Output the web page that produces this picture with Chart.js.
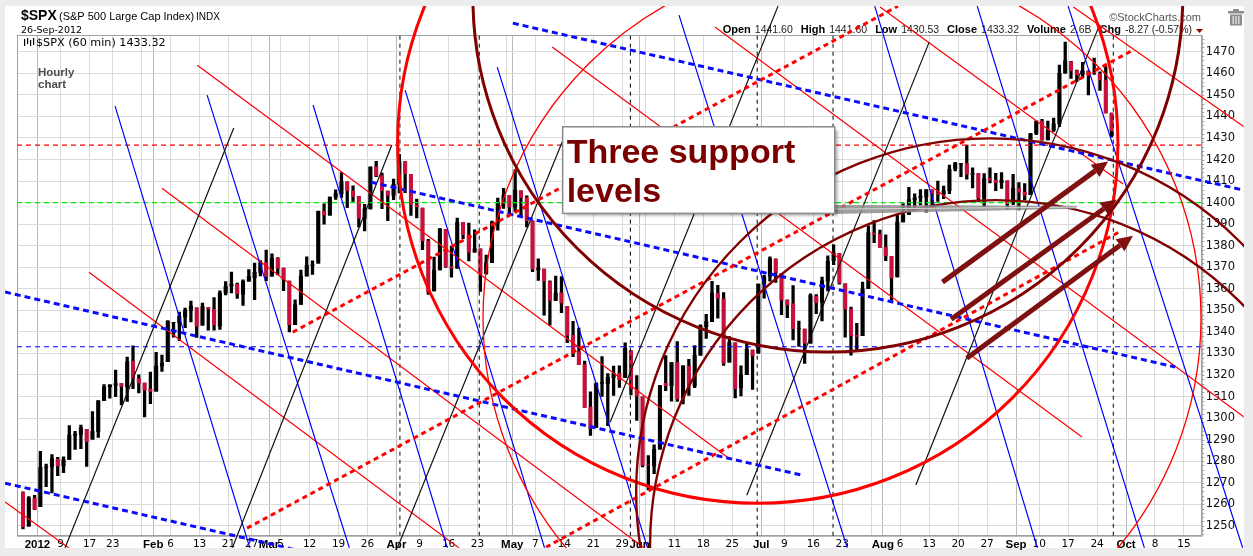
<!DOCTYPE html>
<html>
<head>
<meta charset="utf-8">
<script src="https://cdn.jsdelivr.net/npm/chart.js@4.4.1/dist/chart.umd.min.js"></script>
<style>
  html, body { margin: 0; padding: 0; background: #ececec; }
  canvas { display: block; }
</style>
</head>
<body>
<canvas id="spx" width="1253" height="556" style="width:1253px;height:556px"></canvas>
<script>
// trading days: index 0 = 28-Dec-2011 ... index 188 = 26-Sep-2012 (daily OHLC)
var opens = [
  1265.4, 1249.8, 1262.8,
  1258.9, 1277.0, 1277.3, 1280.9, 1277.8, 1280.8, 1292.0, 1292.5, 1294.8, 1290.2, 1293.7, 1308.1, 1314.5, 1315.3, 1316.0, 1314.4, 1326.3, 1318.3, 1316.2, 1313.5,
  1312.5, 1324.2, 1326.2, 1344.3, 1344.3, 1347.0, 1350.0, 1351.2, 1343.1, 1351.3, 1350.5, 1342.6, 1358.1, 1361.2, 1362.1, 1357.5, 1363.5, 1365.2, 1367.6, 1372.2,
  1365.9, 1374.1, 1369.6, 1363.6, 1343.4, 1352.7, 1366.0, 1370.8, 1371.9, 1395.9, 1394.2, 1402.6, 1404.2, 1409.6, 1405.5, 1402.9, 1392.8, 1397.1, 1416.6, 1412.5, 1405.4, 1403.3,
  1408.5, 1419.0, 1413.1, 1398.8, 1397.5, 1382.2, 1359.0, 1368.8, 1387.6, 1370.3, 1369.6, 1390.8, 1385.1, 1377.0, 1378.5, 1367.0, 1372.1, 1390.6, 1400.2, 1403.3,
  1397.9, 1405.5, 1402.3, 1391.5, 1368.8, 1369.2, 1363.2, 1354.6, 1358.1, 1351.9, 1338.4, 1330.8, 1324.8, 1305.1, 1295.7, 1316.1, 1316.0, 1318.7, 1320.8, 1318.9, 1331.3, 1313.1,
  1309.9, 1278.3, 1277.8, 1285.6, 1316.1, 1315.0, 1325.7, 1309.4, 1324.0, 1314.9, 1329.2, 1342.4, 1344.8, 1357.9, 1355.4, 1325.9, 1334.9, 1314.1, 1320.1, 1331.5, 1330.1,
  1362.3, 1365.8, 1373.7, 1367.1, 1354.7, 1353.0, 1341.4, 1341.3, 1334.8, 1356.5, 1353.7, 1363.6, 1373.0, 1376.5, 1362.3, 1350.5, 1338.4, 1338.2, 1360.1, 1385.9, 1385.3,
  1379.3, 1375.1, 1365.5, 1391.0, 1394.5, 1401.2, 1402.3, 1402.6, 1405.9, 1404.4, 1403.9, 1405.6, 1415.8, 1417.9, 1418.1, 1413.1, 1413.5, 1402.0, 1411.1, 1410.4, 1409.3, 1410.1, 1400.1,
  1406.5, 1404.9, 1403.7, 1432.1, 1437.9, 1429.1, 1433.6, 1436.6, 1460.1, 1465.4, 1461.2, 1459.5, 1461.1, 1460.3, 1459.8, 1456.9, 1441.6
];
var highs = [
  1265.8, 1263.5, 1264.1,
  1284.6, 1278.7, 1283.1, 1281.8, 1282.0, 1296.5, 1293.8, 1296.8, 1294.8, 1303.0, 1308.1, 1315.5, 1315.4, 1322.3, 1316.0, 1328.3, 1333.5, 1320.1, 1316.2, 1321.4,
  1330.5, 1329.2, 1345.3, 1344.4, 1349.2, 1351.0, 1354.3, 1351.2, 1353.4, 1351.3, 1355.9, 1359.0, 1363.4, 1367.8, 1362.7, 1364.2, 1368.9, 1371.9, 1373.1, 1378.0,
  1376.2, 1374.5, 1369.6, 1363.6, 1354.9, 1368.7, 1374.8, 1373.0, 1396.1, 1399.4, 1402.6, 1405.9, 1414.0, 1409.6, 1407.8, 1402.9, 1399.2, 1416.6, 1419.2, 1413.7, 1405.4, 1410.9,
  1422.4, 1419.0, 1413.1, 1401.6, 1397.5, 1383.0, 1374.7, 1388.1, 1387.6, 1379.7, 1392.8, 1390.8, 1390.5, 1387.4, 1378.5, 1375.6, 1391.4, 1402.1, 1406.6, 1403.3,
  1415.3, 1405.5, 1403.1, 1391.5, 1373.9, 1369.2, 1363.7, 1365.9, 1365.7, 1351.9, 1344.9, 1341.8, 1326.4, 1312.2, 1316.4, 1328.5, 1320.7, 1324.1, 1324.2, 1334.9, 1331.3, 1319.7,
  1309.9, 1282.6, 1287.6, 1315.1, 1329.0, 1325.8, 1335.5, 1324.3, 1327.3, 1333.7, 1343.3, 1348.2, 1363.5, 1361.6, 1358.3, 1337.8, 1334.9, 1324.2, 1334.4, 1331.5, 1362.2,
  1366.4, 1374.8, 1373.9, 1367.1, 1354.9, 1361.5, 1345.0, 1341.3, 1357.7, 1357.3, 1365.4, 1375.3, 1380.4, 1376.5, 1362.3, 1351.5, 1344.0, 1363.1, 1389.2, 1391.7, 1387.2,
  1385.0, 1375.1, 1394.2, 1399.6, 1407.1, 1404.1, 1406.0, 1406.0, 1405.9, 1410.0, 1407.7, 1417.4, 1418.7, 1418.1, 1426.7, 1416.1, 1413.5, 1413.5, 1416.2, 1413.6, 1414.0, 1410.1, 1413.1,
  1409.3, 1408.8, 1432.1, 1437.9, 1438.7, 1437.8, 1439.2, 1463.8, 1474.5, 1465.6, 1461.5, 1465.1, 1461.2, 1467.1, 1460.7, 1463.2, 1441.6
];
var lows = [
  1248.6, 1249.8, 1257.5,
  1258.9, 1268.1, 1265.3, 1273.3, 1274.6, 1280.8, 1285.4, 1285.8, 1277.6, 1290.2, 1291.0, 1308.1, 1309.2, 1309.9, 1306.1, 1307.7, 1313.6, 1311.7, 1300.5, 1306.7,
  1312.5, 1321.6, 1326.2, 1337.5, 1335.9, 1341.9, 1344.6, 1337.4, 1343.1, 1340.8, 1340.8, 1341.2, 1357.2, 1358.1, 1355.5, 1352.3, 1363.5, 1354.9, 1366.0, 1363.8,
  1365.9, 1366.4, 1359.1, 1340.0, 1343.4, 1352.7, 1365.9, 1366.7, 1371.9, 1390.0, 1394.2, 1401.5, 1402.4, 1397.7, 1400.6, 1388.7, 1386.9, 1397.1, 1412.0, 1397.2, 1391.6, 1401.4,
  1404.5, 1404.6, 1394.1, 1392.9, 1378.2, 1357.4, 1359.0, 1368.8, 1369.9, 1365.4, 1369.6, 1383.3, 1372.9, 1377.0, 1358.8, 1366.8, 1372.1, 1387.2, 1397.3, 1394.0,
  1395.7, 1393.9, 1388.7, 1368.0, 1363.9, 1347.8, 1343.1, 1354.6, 1348.9, 1335.0, 1328.5, 1324.8, 1304.9, 1292.0, 1295.7, 1310.0, 1296.5, 1310.5, 1314.2, 1318.9, 1310.8, 1298.9,
  1277.3, 1266.7, 1274.2, 1285.6, 1312.7, 1307.8, 1307.7, 1306.6, 1310.5, 1314.1, 1329.2, 1337.0, 1344.8, 1346.4, 1324.4, 1325.9, 1309.3, 1310.3, 1320.1, 1313.3, 1330.1,
  1355.7, 1363.5, 1363.0, 1348.0, 1346.6, 1336.3, 1333.2, 1325.4, 1334.8, 1348.5, 1345.1, 1359.0, 1371.2, 1362.2, 1337.6, 1329.2, 1331.5, 1338.2, 1360.1, 1381.4, 1379.2,
  1373.1, 1354.6, 1365.5, 1391.0, 1394.5, 1396.6, 1398.8, 1395.6, 1397.3, 1400.6, 1401.8, 1404.2, 1414.7, 1412.1, 1410.9, 1406.8, 1400.5, 1398.0, 1409.1, 1405.6, 1406.6, 1397.0, 1399.0,
  1396.6, 1401.3, 1403.7, 1431.5, 1429.0, 1429.1, 1433.0, 1435.3, 1460.1, 1457.6, 1456.1, 1457.9, 1450.0, 1459.5, 1452.1, 1441.6, 1430.5
];
var closes = [
  1249.6, 1263.0, 1257.6,
  1277.1, 1277.3, 1281.1, 1277.8, 1280.7, 1292.1, 1292.5, 1295.5, 1289.1, 1293.7, 1308.0, 1314.5, 1315.4, 1316.0, 1314.7, 1326.1, 1318.4, 1316.3, 1313.0, 1312.4,
  1324.1, 1325.5, 1344.9, 1344.3, 1347.1, 1350.0, 1352.0, 1342.6, 1351.8, 1350.5, 1343.2, 1358.0, 1361.2, 1362.2, 1357.7, 1363.5, 1365.7, 1367.6, 1372.2, 1365.7,
  1374.1, 1369.6, 1364.3, 1343.4, 1352.6, 1365.9, 1370.9, 1371.1, 1396.0, 1394.3, 1402.6, 1404.2, 1409.8, 1405.5, 1402.9, 1392.8, 1397.1, 1416.5, 1412.5, 1405.5, 1403.3, 1408.5,
  1419.0, 1413.4, 1399.0, 1398.1, 1382.2, 1358.6, 1368.7, 1387.6, 1370.3, 1369.6, 1390.8, 1385.1, 1376.9, 1378.5, 1366.9, 1372.0, 1390.7, 1400.0, 1403.4, 1397.9,
  1405.8, 1402.3, 1391.6, 1369.1, 1369.6, 1363.7, 1354.6, 1358.0, 1353.4, 1338.4, 1330.7, 1324.8, 1304.9, 1295.2, 1316.0, 1316.6, 1318.9, 1320.7, 1317.8, 1332.4, 1313.3, 1310.3,
  1278.0, 1278.2, 1285.5, 1315.1, 1315.0, 1325.7, 1308.9, 1324.2, 1314.9, 1329.1, 1342.8, 1344.8, 1358.0, 1355.7, 1325.5, 1335.0, 1313.7, 1320.0, 1331.9, 1329.0, 1362.2,
  1365.5, 1374.0, 1367.6, 1354.7, 1352.5, 1341.5, 1341.5, 1334.8, 1356.8, 1353.6, 1363.7, 1372.8, 1376.5, 1362.7, 1350.5, 1338.3, 1337.9, 1360.0, 1386.0, 1385.3, 1379.3,
  1375.3, 1365.0, 1391.0, 1394.2, 1401.4, 1402.2, 1402.8, 1405.9, 1404.1, 1403.9, 1405.5, 1415.5, 1418.2, 1418.1, 1413.2, 1413.5, 1402.1, 1411.1, 1410.4, 1409.3, 1410.5, 1399.5, 1406.6,
  1404.9, 1403.4, 1432.1, 1437.9, 1429.1, 1433.6, 1436.6, 1460.0, 1465.8, 1461.2, 1459.3, 1461.1, 1460.3, 1460.2, 1456.9, 1441.6, 1433.3
];

// date axis: trading-day index of each label (future days continue to mid October)
var tickDays = [3, 7, 12, 16, 21, 23, 26, 31, 36, 40, 43, 45, 50, 55, 60, 65, 69, 74, 79, 84, 85, 89, 94, 99, 104,
  107, 108, 113, 118, 123, 128, 132, 137, 142, 147, 149, 152, 157, 162, 167, 172, 176, 181, 186, 191, 196, 201];
var tickText = ['2012', '9', '17', '23', '', 'Feb', '6', '13', '21', '27', 'Mar', '5', '12', '19', '26', 'Apr', '9', '16', '23', '', 'May', '7', '14', '21', '29',
  'Jun', '', '11', '18', '25', 'Jul', '9', '16', '23', '', 'Aug', '6', '13', '20', '27', 'Sep', '10', '17', '24', 'Oct', '8', '15'];
var monthDays = [3, 23, 43, 65, 85, 107, 128, 149, 172, 191];
var priceTicks = [1250, 1260, 1270, 1280, 1290, 1300, 1310, 1320, 1330, 1340, 1350, 1360, 1370,
  1380, 1390, 1400, 1410, 1420, 1430, 1440, 1450, 1460, 1470];

// drawn levels and trend lines, as [day1, price1, day2, price2]
var levelRed = 1426.7, levelGreen = 1400.0, levelBlue = 1333.1;
var markerDays = [65.6, 79.3, 105.4, 127.3, 140.4, 188.8];
var redLines = [
  [-2.6, 1261.0, 10.4, 1235.9], [11.9, 1367.7, 77.7, 1235.9], [24.5, 1406.7, 109.7, 1235.9],
  [30.6, 1463.8, 122.1, 1281.9], [91.9, 1472.2, 183.4, 1291.2], [120.0, 1481.5, 211.6, 1300.0],
  [148.5, 1490.8, 190.5, 1408.6], [181.9, 1490.8, 212.9, 1432.3]
];
var blueLines = [
  [16.4, 1444.8, 40.1, 1236.0], [32.3, 1449.9, 57.3, 1236.0], [50.6, 1445.3, 74.2, 1236.0],
  [66.5, 1452.2, 91.0, 1236.0], [82.4, 1462.9, 108.8, 1236.0], [113.8, 1487.0, 143.3, 1236.0],
  [147.6, 1491.2, 176.1, 1236.0], [165.3, 1491.2, 194.6, 1236.0], [181.0, 1491.2, 211.6, 1236.0]
];
var blackLines = [
  [7.2, 1236.0, 36.9, 1434.6], [36.1, 1236.0, 64.2, 1426.7], [64.6, 1236.0, 94.6, 1434.6],
  [101.9, 1298.1, 130.9, 1491.2], [125.5, 1264.2, 157.0, 1474.5], [154.7, 1268.9, 186.2, 1481.0]
];
var redChannel = [
  [39.2, 1248.9, 192.2, 1470.8], [47.1, 1339.9, 151.6, 1491.2], [88.1, 1236.0, 189.7, 1386.2]
];
var blueChannel = [
  [-2.6, 1358.5, 135.0, 1273.5], [60.6, 1409.5, 199.5, 1323.7], [85.1, 1483.3, 212.9, 1404.8], [-2.6, 1269.8, 49.4, 1237.8]
];
var supportArrows = [
  [159.3, 1363.1, 187.9, 1419.1], [160.8, 1345.9, 189.4, 1401.5], [163.5, 1327.8, 192.2, 1384.6]
];
// circles as [centre day, centre price, radius in days]
var maroonCircles = [[139.5, 1495.4, 61.3], [167.5, 1265.6, 61.1], [168.4, 1241.0, 59.6]];
var redCircles = [[127.4, 1427.6, 62.2], [141.95, 1346.4, 62.0]];

var xMin = -0.535, xMax = 204.07, yMin = 1245.4, yMax = 1477.8;

var sans = '"Liberation Sans", Arial, sans-serif';
var verd = '"DejaVu Sans", Verdana, sans-serif';
var overflow = { left: 12, top: 29, right: 42, bottom: 12 };

var wickData = [], bodyData = [], bodyColor = [];
for (var i = 0; i < closes.length; i++) {
  wickData.push({ x: i + 0.5, y: [lows[i], highs[i]] });
  bodyData.push({ x: i + 0.5, y: [Math.min(opens[i], closes[i]), Math.max(opens[i], closes[i])] });
  bodyColor.push(closes[i] < opens[i] ? '#c8103c' : '#000000');
}

function segments(list) {
  var pts = [];
  list.forEach(function (s) {
    pts.push({ x: s[0], y: s[1] }, { x: s[2], y: s[3] }, { x: s[2], y: null });
  });
  return pts;
}

function lineSet(pts, color, width, dash, order) {
  return {
    type: 'line', data: pts, borderColor: color, borderWidth: width, borderDash: dash,
    pointRadius: 0, pointHitRadius: 0, spanGaps: false, tension: 0, fill: false,
    order: order, clip: overflow
  };
}

var vert = markerDays.map(function (d) { return [d, yMin, d, yMax]; });

function ring(ctx, chart, c, color, width) {
  var xs = chart.scales.x, ys = chart.scales.y;
  var px = xs.getPixelForValue(c[0]), py = ys.getPixelForValue(c[1]);
  var pr = xs.getPixelForValue(c[0] + c[2]) - px;
  ctx.beginPath();
  ctx.arc(px, py, pr, 0, Math.PI * 2);
  ctx.strokeStyle = color;
  ctx.lineWidth = width;
  ctx.stroke();
}

var decor = {
  id: 'decor',
  beforeDraw: function (chart) {
    var ctx = chart.ctx;
    ctx.save();
    ctx.fillStyle = '#ececec';
    ctx.fillRect(0, 0, chart.width, chart.height);
    ctx.fillStyle = '#ffffff';
    ctx.fillRect(5, 6, 1239, 542);

    ctx.fillStyle = '#000';
    ctx.textBaseline = 'alphabetic';
    ctx.font = 'bold 14px ' + sans;
    ctx.fillText('$SPX', 21, 20);
    ctx.font = '11px ' + sans;
    ctx.fillText('(S&P 500 Large Cap Index)', 59, 20);
    ctx.font = '10px ' + sans;
    ctx.fillText('INDX', 196, 20);
    ctx.font = '9.5px ' + verd;
    ctx.fillText('26-Sep-2012', 21, 32.5);

    // quote line, right aligned
    var quote = [['Open', '1441.60'], ['High', '1441.60'], ['Low', '1430.53'], ['Close', '1433.32'], ['Volume', '2.6B'], ['Chg', '-8.27 (-0.57%)']];
    var lf = 'bold 11px ' + sans, vf = '10.5px ' + sans, total = 0;
    quote.forEach(function (q, k) {
      ctx.font = lf; total += ctx.measureText(q[0]).width + 4;
      ctx.font = vf; total += ctx.measureText(q[1]).width + (k < quote.length - 1 ? 8 : 0);
    });
    var x = 1192 - total;
    quote.forEach(function (q) {
      ctx.font = lf; ctx.fillStyle = '#000'; ctx.fillText(q[0], x, 32.5); x += ctx.measureText(q[0]).width + 4;
      ctx.font = vf; ctx.fillStyle = '#222'; ctx.fillText(q[1], x, 32.5); x += ctx.measureText(q[1]).width + 8;
    });
    ctx.fillStyle = '#8b0000';
    ctx.beginPath(); ctx.moveTo(1196, 29); ctx.lineTo(1203, 29); ctx.lineTo(1199.5, 33); ctx.closePath(); ctx.fill();

    ctx.fillStyle = '#555';
    ctx.font = '11px ' + sans;
    ctx.textAlign = 'right';
    ctx.fillText('\u00A9StockCharts.com', 1201, 20.5);
    ctx.textAlign = 'left';

    // trash icon
    ctx.fillStyle = '#8c8c8c';
    ctx.fillRect(1233, 9, 6, 2);
    ctx.fillRect(1228, 11, 16, 2.5);
    ctx.fillRect(1230, 14.5, 12, 11);
    ctx.fillStyle = '#ececec';
    ctx.fillRect(1232.6, 16, 1.2, 8);
    ctx.fillRect(1235.4, 16, 1.2, 8);
    ctx.fillRect(1238.2, 16, 1.2, 8);
    ctx.restore();
  },
  beforeDatasetsDraw: function (chart) {
    var ctx = chart.ctx, a = chart.chartArea, ys = chart.scales.y;
    ctx.save();
    ctx.strokeStyle = '#a0a0a0';
    ctx.lineWidth = 1;
    ctx.strokeRect(a.left + 0.5, a.top + 0.5, a.right - a.left, a.bottom - a.top);
    ctx.beginPath();
    for (var p = 1246; p <= 1477; p += 2) {
      var y = Math.round(ys.getPixelForValue(p)) + 0.5;
      ctx.moveTo(a.right, y); ctx.lineTo(a.right + 2.5, y);
    }
    ctx.stroke();

    // little bar glyph + series caption
    ctx.fillStyle = '#000';
    ctx.fillRect(24, 39, 1.2, 7); ctx.fillRect(27, 38, 1.2, 6); ctx.fillRect(30, 40, 1.2, 6); ctx.fillRect(33, 38, 1.2, 7);
    ctx.font = '11.2px ' + verd;
    ctx.fillText('$SPX (60 min) 1433.32', 36, 46);
    ctx.fillStyle = '#4d4d4d';
    ctx.font = 'bold 11.5px ' + sans;
    ctx.fillText('Hourly', 38, 75.5);
    ctx.fillText('chart', 38, 87.5);
    ctx.restore();
  },
  afterDatasetsDraw: function (chart, args, opts) {
    var ctx = chart.ctx, xs = chart.scales.x, ys = chart.scales.y;
    ctx.save();
    ctx.beginPath();
    ctx.rect(5, 6, 1239, 542);
    ctx.clip();

    redCircles.forEach(function (c, k) { ring(ctx, chart, c, '#ff0000', k === 0 ? 3 : 1.3); });
    maroonCircles.forEach(function (c, k) { ring(ctx, chart, c, '#800000', k === 0 ? 3 : 2.4); });

    // callout tail from the note box
    var b = opts.box;
    var tx0 = xs.getPixelForValue(b.right), ty0 = ys.getPixelForValue(b.tail[0]);
    var tx1 = xs.getPixelForValue(b.tail[1]), ty1 = ys.getPixelForValue(b.tail[2]);
    ctx.fillStyle = 'rgba(140,140,140,0.85)';
    ctx.beginPath();
    ctx.moveTo(tx0, ty0 - 4); ctx.lineTo(tx1, ty1 - 1.5); ctx.lineTo(tx1, ty1 + 1.5); ctx.lineTo(tx0, ty0 + 5);
    ctx.closePath(); ctx.fill();
    ctx.strokeStyle = 'rgba(220,220,220,0.9)';
    ctx.lineWidth = 1;
    ctx.beginPath(); ctx.moveTo(tx0, ty0); ctx.lineTo(tx1, ty1); ctx.stroke();

    // arrows
    ctx.strokeStyle = '#7f1010';
    ctx.fillStyle = '#7f1010';
    supportArrows.forEach(function (s) {
      var x1 = xs.getPixelForValue(s[0]), y1 = ys.getPixelForValue(s[1]);
      var x2 = xs.getPixelForValue(s[2]), y2 = ys.getPixelForValue(s[3]);
      var ang = Math.atan2(y2 - y1, x2 - x1), head = 16, half = 7.5;
      var bx = x2 - head * Math.cos(ang), by = y2 - head * Math.sin(ang);
      ctx.lineWidth = 5;
      ctx.lineCap = 'butt';
      ctx.beginPath(); ctx.moveTo(x1, y1); ctx.lineTo(bx, by); ctx.stroke();
      ctx.beginPath();
      ctx.moveTo(x2, y2);
      ctx.lineTo(bx + half * Math.sin(ang), by - half * Math.cos(ang));
      ctx.lineTo(bx - half * Math.sin(ang), by + half * Math.cos(ang));
      ctx.closePath(); ctx.fill();
    });

    // note box
    var l = xs.getPixelForValue(b.left), r = xs.getPixelForValue(b.right);
    var t = ys.getPixelForValue(b.top), bt = ys.getPixelForValue(b.bottom);
    ctx.shadowColor = 'rgba(0,0,0,0.35)';
    ctx.shadowOffsetX = 3; ctx.shadowOffsetY = 3; ctx.shadowBlur = 3;
    ctx.fillStyle = '#ffffff';
    ctx.fillRect(l, t, r - l, bt - t);
    ctx.shadowColor = 'transparent';
    ctx.strokeStyle = '#8a8a8a';
    ctx.lineWidth = 1.5;
    ctx.strokeRect(l, t, r - l, bt - t);
    ctx.fillStyle = '#7a0000';
    ctx.font = 'bold 34px ' + sans;
    ctx.fillText(b.lines[0], l + 4, t + 36.5);
    ctx.fillText(b.lines[1], l + 4, t + 75);
    ctx.restore();
  }
};

new Chart(document.getElementById('spx').getContext('2d'), {
  type: 'bar',
  data: {
    datasets: [
      lineSet(segments(redChannel), '#ff0000', 3, [5, 4], 1),
      lineSet(segments(blueChannel), '#0a0aff', 3, [6, 4], 1),
      lineSet(segments(blackLines), '#111111', 1.2, [], 2),
      lineSet(segments(blueLines), '#0000ff', 1.2, [], 2),
      lineSet(segments(redLines), '#ff0000', 1.2, [], 2),
      lineSet(segments([[xMin, levelRed, xMax, levelRed]]), '#ff0000', 1.2, [5, 4], 3),
      lineSet(segments([[xMin, levelGreen, xMax, levelGreen]]), '#00ee00', 1.2, [5, 4], 3),
      lineSet(segments([[xMin, levelBlue, xMax, levelBlue]]), '#0000ff', 1.2, [5, 4], 3),
      lineSet(segments(vert), '#000000', 1, [4, 4], 3),
      { type: 'bar', data: bodyData, backgroundColor: bodyColor, barThickness: 3.4, grouped: false, order: 10 },
      { type: 'bar', data: wickData, backgroundColor: '#000000', barThickness: 2.6, grouped: false, order: 11 }
    ]
  },
  options: {
    responsive: false,
    animation: false,
    events: [],
    layout: { padding: { left: 17, top: 35, right: 0, bottom: 0 } },
    plugins: {
      legend: { display: false },
      tooltip: { enabled: false },
      decor: {
        box: { left: 93.7, right: 140.7, top: 1435.2, bottom: 1395.0, tail: [1397.0, 182.5, 1397.9], lines: ['Three support', 'levels'] }
      }
    },
    scales: {
      x: {
        type: 'linear', min: xMin, max: xMax, offset: false,
        afterBuildTicks: function (s) { s.ticks = tickDays.map(function (d) { return { value: d }; }); },
        afterFit: function (s) { s.height = 20.3; },
        grid: {
          offset: false, drawTicks: false,
          color: function (c) { return c.tick && monthDays.indexOf(c.tick.value) >= 0 ? '#b8b8b8' : '#dadada'; }
        },
        border: { color: '#a0a0a0' },
        ticks: {
          autoSkip: false, maxRotation: 0, minRotation: 0, padding: 2, color: '#000',
          font: function (c) {
            var m = c.tick && monthDays.indexOf(c.tick.value) >= 0;
            return m ? { family: sans, size: 11.5, weight: 'bold' } : { family: verd, size: 10.5 };
          },
          callback: function (v) { var k = tickDays.indexOf(v); return k < 0 ? '' : tickText[k]; }
        }
      },
      y: {
        position: 'right', min: yMin, max: yMax,
        afterBuildTicks: function (s) { s.ticks = priceTicks.map(function (v) { return { value: v }; }); },
        afterFit: function (s) { s.width = 51.3; },
        grid: { drawTicks: false, color: '#dadada' },
        border: { color: '#a0a0a0' },
        ticks: {
          padding: 4, color: '#111', font: { family: verd, size: 11.5 },
          callback: function (v) { return String(v); }
        }
      }
    }
  },
  plugins: [decor]
});
</script>
</body>
</html>
